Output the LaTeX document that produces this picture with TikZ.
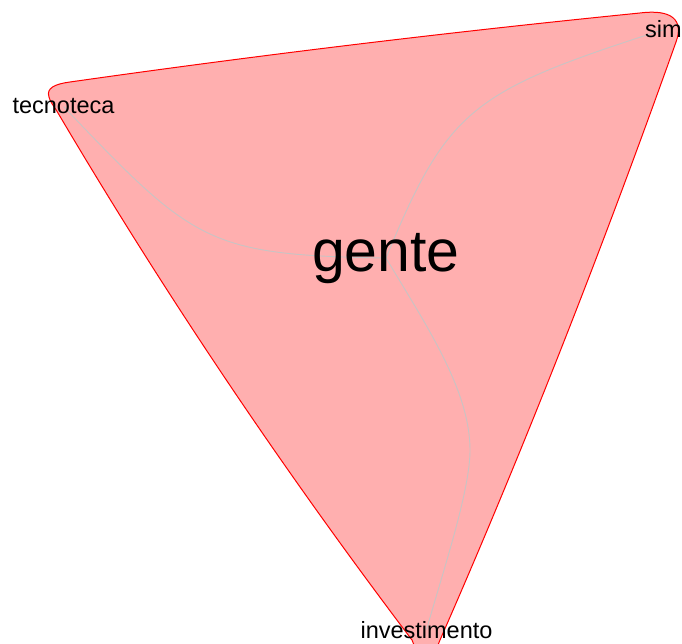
\documentclass[tikz,border=0pt]{standalone}
\usepackage{fontspec}
\setmainfont{Liberation Sans}
\usetikzlibrary{backgrounds}
\definecolor{hullfill}{RGB}{255,175,175}
\definecolor{edgegray}{RGB}{200,196,196}
\begin{document}
\begin{tikzpicture}[x=1pt,y=-1pt,
  lbl/.style={font=\fontsize{23.5}{28}\selectfont, inner sep=0pt, anchor=base},
  big/.style={font=\fontsize{59}{70}\selectfont, inner sep=0pt, anchor=base},
  edge/.style={draw=edgegray, line width=0.9pt},
  hull/.style={fill=hullfill, draw=red, line width=1pt}]
\useasboundingbox (0,0) rectangle (682,644);
\clip (0,0) rectangle (682,644);
\node[big] (g) at (386,271) {gente};
\node[lbl] (t) at (63.5,114) {tecnoteca};
\node[lbl] (s) at (663.5,38) {sim};
\node[lbl] (i) at (426.5,638) {investimento};
\coordinate (ibend) at (470,450);
\begin{scope}[on background layer]
\path[hull] (49,97) .. controls (46,88) and (55,84) .. (70,82)
 .. controls (260,55) and (450,32) .. (640,13)
 .. controls (672,9) and (684,20) .. (676,42)
 .. controls (604,244) and (526,444) .. (440,640)
 .. controls (432,662) and (420,662) .. (412,640)
 .. controls (284,471) and (166,296) .. (58,113)
 .. controls (54,106) and (50,102) .. (49,97) -- cycle;
\draw[edge] (g.center) .. controls (208,255) and (194,243.5) .. (t.center);
\draw[edge] (g.center) .. controls (448,107.6) and (472.5,91) .. (s.center);
\draw[edge] (g.center) .. controls (426,325) and (470,390) .. (ibend)
  .. controls (470,490) and (445,565) .. (i.center);
\end{scope}
\end{tikzpicture}
\end{document}
